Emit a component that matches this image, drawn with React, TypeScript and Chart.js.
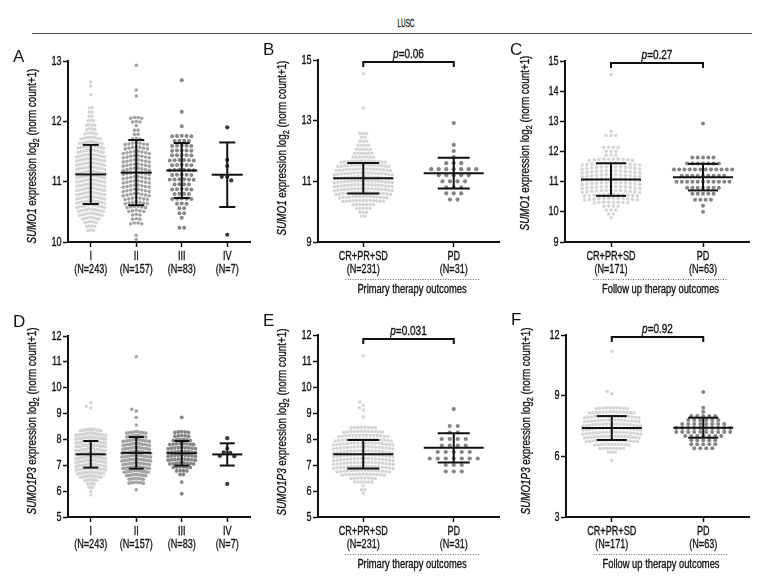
import React, { useEffect, useRef } from "react";
import { Chart, registerables } from "chart.js";

Chart.register(...registerables);

const BASE = "'Liberation Sans', Arial, 'DejaVu Sans', sans-serif";
const INK = "#141414";

/* ====================== DATA ====================== */
// Categories
const STAGE_LABELS = ["I", "II", "III", "IV"];
const STAGE_N = [243, 157, 83, 7];
const PRIMARY_LABELS = ["CR+PR+SD", "PD"];
const PRIMARY_N = [231, 31];
const FOLLOW_LABELS = ["CR+PR+SD", "PD"];
const FOLLOW_N = [171, 63];

// Y axes: [min, max, step]
const A_Y = [10, 13, 1];
const B_Y = [9, 15, 2];
const C_Y = [9, 15, 1];
const D_Y = [5, 12, 1];
const E_Y = [5, 12, 1];
const F_Y = [3, 12, 3];

// Distributions: bins = [first bin value, bin width], counts = samples per bin, single = individual values
// Panel A  SUMO1 by stage
const A_I_BINS = [10.2, 0.07];
const A_I_COUNTS = [3, 4, 5, 7, 9, 10, 11, 11, 11, 11, 11, 11, 11, 11, 11, 11, 11, 11, 11, 10, 10, 9, 8, 5, 4, 4, 3, 2, 2, 2, 0, 0, 1, 0, 1, 1];
const A_I_SINGLE: number[] = [];
const A_II_BINS = [10.04, 0.07];
const A_II_COUNTS = [1, 1, 0, 0, 4, 3, 3, 5, 6, 7, 7, 8, 8, 8, 8, 8, 8, 8, 8, 8, 8, 8, 7, 7, 3, 2, 2, 1, 3, 4];
const A_II_SINGLE = [12.42, 12.52, 12.93];
const A_III_BINS = [10.24, 0.08];
const A_III_COUNTS = [2, 0, 1, 2, 2, 3, 5, 4, 5, 4, 6, 5, 6, 5, 6, 5, 5, 5, 4, 5, 0, 1, 0, 0, 1];
const A_III_SINGLE = [12.68];
const A_IV_BINS = [0, 0];
const A_IV_COUNTS: number[] = [];
const A_IV_SINGLE = [11.9, 11.36, 11.26, 11.08, 11.08, 11.02, 10.12];
const A_MEAN = [11.12, 11.15, 11.185, 11.115];
const A_SD = [0.49, 0.54, 0.455, 0.535];

// Panel B  SUMO1 by primary therapy outcome
const B_CR_BINS = [9.85, 0.13];
const B_CR_COUNTS = [2, 3, 5, 7, 13, 15, 17, 18, 18, 18, 18, 18, 17, 16, 14, 7, 6, 5, 4, 3, 2, 3];
const B_CR_SINGLE = [13.42, 14.55];
const B_PD_BINS = [10.4, 0.2];
const B_PD_COUNTS = [2, 3, 3, 4, 5, 7, 3, 1, 1, 1];
const B_PD_SINGLE = [12.92];
const B_MEAN = [11.1, 11.27];
const B_SD = [0.505, 0.51];
const B_P = "0.06";

// Panel C  SUMO1 by follow-up therapy outcome
const C_CR_BINS = [9.8, 0.13];
const C_CR_COUNTS = [1, 2, 3, 4, 8, 12, 12, 13, 13, 13, 13, 13, 13, 13, 13, 10, 3, 3, 4, 0, 0, 3, 1];
const C_CR_SINGLE = [14.55];
const C_PD_BINS = [10.0, 0.2];
const C_PD_COUNTS = [1, 1, 4, 5, 7, 11, 9, 12, 7, 5];
const C_PD_SINGLE = [12.93];
const C_MEAN = [11.07, 11.15];
const C_SD = [0.54, 0.44];
const C_P = "0.27";

// Panel D  SUMO1P3 by stage
const D_I_BINS = [5.85, 0.15];
const D_I_COUNTS = [1, 1, 3, 5, 8, 13, 16, 18, 18, 18, 18, 18, 18, 18, 18, 18, 18, 13];
const D_I_SINGLE = [9.22, 9.28, 9.42];
const D_II_BINS = [6.05, 0.15];
const D_II_COUNTS = [1, 0, 7, 7, 9, 11, 12, 12, 13, 13, 13, 12, 12, 12, 9, 9];
const D_II_SINGLE = [8.56, 8.85, 9.1, 9.17, 11.2];
const D_III_BINS = [5.9, 0.15];
const D_III_COUNTS = [1, 0, 0, 1, 0, 2, 4, 6, 8, 9, 9, 9, 9, 8, 6, 5, 5];
const D_III_SINGLE = [8.85];
const D_IV_BINS = [0, 0];
const D_IV_COUNTS: number[] = [];
const D_IV_SINGLE = [8.05, 7.65, 7.5, 7.48, 7.36, 7.35, 6.28];
const D_MEAN = [7.425, 7.48, 7.465, 7.42];
const D_SD = [0.515, 0.61, 0.475, 0.43];

// Panel E  SUMO1P3 by primary therapy outcome
const E_CR_BINS = [5.9, 0.15];
const E_CR_COUNTS = [1, 2, 1, 6, 8, 13, 16, 18, 18, 18, 18, 18, 18, 18, 17, 15, 12, 8];
const E_CR_SINGLE = [8.85, 9.12, 9.2, 9.3, 9.42, 11.2];
const E_PD_BINS = [6.75, 0.25];
const E_PD_COUNTS = [3, 3, 7, 5, 4, 4, 2, 2];
const E_PD_SINGLE = [9.15];
const E_MEAN = [7.415, 7.66];
const E_SD = [0.545, 0.56];
const E_P = "0.031";

// Panel F  SUMO1P3 by follow-up therapy outcome
const F_CR_BINS = [5.8, 0.2];
const F_CR_COUNTS = [1, 0, 3, 8, 11, 16, 17, 18, 18, 18, 17, 17, 14, 10];
const F_CR_SINGLE = [9.1, 9.2, 11.2];
const F_PD_BINS = [6.4, 0.2];
const F_PD_COUNTS = [4, 5, 5, 7, 10, 10, 8, 6, 5, 1, 1];
const F_PD_SINGLE = [9.18];
const F_MEAN = [7.4, 7.415];
const F_SD = [0.59, 0.495];
const F_P = "0.92";

/* ====================== STYLE / LAYOUT ====================== */
const STAGE_COLORS = ["#d5d5d5", "#a3a3a3", "#878787", "#383838"];
const OUTCOME_COLORS = ["#d5d5d5", "#858585"];

type Group = { bins: number[]; counts: number[]; single: number[] };
type Box = { left: number; top: number; w: number; h: number };
type Area = { left: number; top: number; right: number; bottom: number };
type PanelCfg = {
  key: string;
  box: Box;
  area: Area;
  y: number[];
  gene: string;
  titleX: number;
  titleY: number;
  labels: string[];
  ns: number[];
  groups: Group[];
  colors: string[];
  radius: number[];
  spacing: number[];
  archLin: number[];
  archQuad: number[];
  mean: number[];
  sd: number[];
  meanHalf: number;
  capHalf: number;
  p?: string;
  bracketDy?: number;
  footer?: string;
};

const g = (bins: number[], counts: number[], single: number[]): Group => ({ bins, counts, single });

const PANELS: PanelCfg[] = [
  {
    key: "A",
    box: { left: 0, top: 36, w: 258, h: 264 },
    area: { left: 68, top: 61, right: 250, bottom: 242 },
    y: A_Y, gene: "SUMO1", titleX: 33, titleY: 156,
    labels: STAGE_LABELS, ns: STAGE_N,
    groups: [g(A_I_BINS, A_I_COUNTS, A_I_SINGLE), g(A_II_BINS, A_II_COUNTS, A_II_SINGLE), g(A_III_BINS, A_III_COUNTS, A_III_SINGLE), g(A_IV_BINS, A_IV_COUNTS, A_IV_SINGLE)],
    colors: STAGE_COLORS, radius: [1.75, 1.8, 2, 2.1], spacing: [2.8, 3.7, 4.8, 5], archLin: [0.2, 0.2, 0.05, 0], archQuad: [0, 0, 0, 0],
    mean: A_MEAN, sd: A_SD, meanHalf: 15.5, capHalf: 8,
  },
  {
    key: "B",
    box: { left: 258, top: 36, w: 250, h: 264 },
    area: { left: 318, top: 60, right: 499, bottom: 242 },
    y: B_Y, gene: "SUMO1", titleX: 283, titleY: 148,
    labels: PRIMARY_LABELS, ns: PRIMARY_N,
    groups: [g(B_CR_BINS, B_CR_COUNTS, B_CR_SINGLE), g(B_PD_BINS, B_PD_COUNTS, B_PD_SINGLE)],
    colors: OUTCOME_COLORS, radius: [1.75, 2.1], spacing: [3.4, 7.5], archLin: [0, 0], archQuad: [0.0025, 0],
    mean: B_MEAN, sd: B_SD, meanHalf: 30, capHalf: 16,
    p: B_P, bracketDy: 2, footer: "Primary therapy outcomes",
  },
  {
    key: "C",
    box: { left: 508, top: 36, w: 272, h: 264 },
    area: { left: 565, top: 61, right: 749, bottom: 242 },
    y: C_Y, gene: "SUMO1", titleX: 526, titleY: 143,
    labels: FOLLOW_LABELS, ns: FOLLOW_N,
    groups: [g(C_CR_BINS, C_CR_COUNTS, C_CR_SINGLE), g(C_PD_BINS, C_PD_COUNTS, C_PD_SINGLE)],
    colors: OUTCOME_COLORS, radius: [1.8, 2], spacing: [4.8, 5.3], archLin: [0, 0], archQuad: [0.0025, 0],
    mean: C_MEAN, sd: C_SD, meanHalf: 30, capHalf: 15,
    p: C_P, bracketDy: 2, footer: "Follow up therapy outcomes",
  },
  {
    key: "D",
    box: { left: 0, top: 300, w: 258, h: 288 },
    area: { left: 68, top: 336, right: 250, bottom: 517 },
    y: D_Y, gene: "SUMO1P3", titleX: 33, titleY: 421,
    labels: STAGE_LABELS, ns: STAGE_N,
    groups: [g(D_I_BINS, D_I_COUNTS, D_I_SINGLE), g(D_II_BINS, D_II_COUNTS, D_II_SINGLE), g(D_III_BINS, D_III_COUNTS, D_III_SINGLE), g(D_IV_BINS, D_IV_COUNTS, D_IV_SINGLE)],
    colors: STAGE_COLORS, radius: [1.75, 1.8, 1.9, 2.1], spacing: [1.75, 2.4, 3.4, 5], archLin: [0.15, 0.15, 0.1, 0], archQuad: [0, 0, 0, 0],
    mean: D_MEAN, sd: D_SD, meanHalf: 15, capHalf: 7.5,
  },
  {
    key: "E",
    box: { left: 258, top: 300, w: 250, h: 288 },
    area: { left: 318, top: 335, right: 499, bottom: 517 },
    y: E_Y, gene: "SUMO1P3", titleX: 283, titleY: 422,
    labels: PRIMARY_LABELS, ns: PRIMARY_N,
    groups: [g(E_CR_BINS, E_CR_COUNTS, E_CR_SINGLE), g(E_PD_BINS, E_PD_COUNTS, E_PD_SINGLE)],
    colors: OUTCOME_COLORS, radius: [1.75, 2.1], spacing: [3.5, 8], archLin: [0, 0], archQuad: [0.0025, 0],
    mean: E_MEAN, sd: E_SD, meanHalf: 30, capHalf: 16,
    p: E_P, bracketDy: 4, footer: "Primary therapy outcomes",
  },
  {
    key: "F",
    box: { left: 508, top: 300, w: 272, h: 288 },
    area: { left: 566, top: 335, right: 749, bottom: 517 },
    y: F_Y, gene: "SUMO1P3", titleX: 527, titleY: 421,
    labels: FOLLOW_LABELS, ns: FOLLOW_N,
    groups: [g(F_CR_BINS, F_CR_COUNTS, F_CR_SINGLE), g(F_PD_BINS, F_PD_COUNTS, F_PD_SINGLE)],
    colors: OUTCOME_COLORS, radius: [1.75, 2], spacing: [3.4, 6], archLin: [0, 0], archQuad: [0.0025, 0],
    mean: F_MEAN, sd: F_SD, meanHalf: 30, capHalf: 15,
    p: F_P, bracketDy: 2, footer: "Follow up therapy outcomes",
  },
];

const LETTERS = [
  { t: "A", left: 13, top: 48 },
  { t: "B", left: 263, top: 41 },
  { t: "C", left: 510, top: 41 },
  { t: "D", left: 13, top: 313 },
  { t: "E", left: 263, top: 312 },
  { t: "F", left: 511, top: 311 },
];

function layoutGroup(chart: any, gi: number, grp: Group, spacing: number, aLin: number, aQuad: number, r: number) {
  const xs = chart.scales.x;
  const ys = chart.scales.y;
  const band = xs.getPixelForValue(gi + 1) - xs.getPixelForValue(gi);
  const pxPerUnit = (ys.getPixelForValue(ys.min) - ys.getPixelForValue(ys.max)) / (ys.max - ys.min);
  const pts: { x: number; y: number }[] = [];
  const placed: { px: number; py: number }[] = [];
  grp.counts.forEach((n, k) => {
    const v = +(grp.bins[0] + k * grp.bins[1]).toFixed(3);
    for (let j = 0; j < n; j++) {
      const px = (j - (n - 1) / 2) * spacing;
      const drop = aLin * Math.abs(px) + aQuad * px * px;
      const yv = v - drop / pxPerUnit;
      pts.push({ x: gi + px / band, y: yv });
      placed.push({ px, py: ys.getPixelForValue(yv) });
    }
  });
  const d = r * 2 + 1;
  grp.single.forEach((v) => {
    const py = ys.getPixelForValue(v);
    let off = 0;
    for (let t = 0; t < 800; t++) {
      const cand = (t % 2 === 1 ? -1 : 1) * Math.ceil(t / 2) * 0.5;
      if (placed.every((q) => (q.px - cand) ** 2 + (q.py - py) ** 2 >= d * d)) {
        off = cand;
        break;
      }
    }
    placed.push({ px: off, py });
    pts.push({ x: gi + off / band, y: v });
  });
  return pts;
}

function fontStr(size: number, italic?: boolean) {
  return `${italic ? "italic " : ""}${size}px ${BASE}`;
}
function nWidth(ctx: CanvasRenderingContext2D, text: string, size: number, sx: number, italic?: boolean) {
  ctx.font = fontStr(size, italic);
  return ctx.measureText(text).width * sx;
}
function nText(
  ctx: CanvasRenderingContext2D,
  text: string,
  x: number,
  y: number,
  size: number,
  sx: number,
  align: CanvasTextAlign,
  italic?: boolean,
  baseline: CanvasTextBaseline = "middle"
) {
  ctx.save();
  ctx.font = fontStr(size, italic);
  ctx.textAlign = align;
  ctx.textBaseline = baseline;
  ctx.fillStyle = INK;
  ctx.strokeStyle = INK;
  ctx.lineWidth = 0.35;
  ctx.translate(x, y);
  ctx.scale(sx, 1);
  ctx.fillText(text, 0, 0);
  ctx.strokeText(text, 0, 0);
  ctx.restore();
}

const LAB_SIZE = 13;
const LAB_SX = 0.7;

function makeDecor(cfg: PanelCfg) {
  return {
    id: "decor" + cfg.key,
    afterDatasetsDraw(chart: any) {
      const ctx: CanvasRenderingContext2D = chart.ctx;
      const xs = chart.scales.x;
      const ys = chart.scales.y;
      const area = chart.chartArea;
      const line = (x1: number, y1: number, x2: number, y2: number) => {
        ctx.beginPath();
        ctx.moveTo(x1, y1);
        ctx.lineTo(x2, y2);
        ctx.stroke();
      };
      ctx.save();
      // mean ± SD
      ctx.strokeStyle = "#111";
      ctx.lineWidth = 2;
      cfg.mean.forEach((m, i) => {
        const cx = xs.getPixelForValue(i);
        const yM = ys.getPixelForValue(m);
        const yU = ys.getPixelForValue(m + cfg.sd[i]);
        const yL = ys.getPixelForValue(m - cfg.sd[i]);
        line(cx - cfg.meanHalf, yM, cx + cfg.meanHalf, yM);
        line(cx, yU, cx, yL);
        line(cx - cfg.capHalf, yU, cx + cfg.capHalf, yU);
        line(cx - cfg.capHalf, yL, cx + cfg.capHalf, yL);
      });

      // y tick labels
      ys.ticks.forEach((t: any) => {
        nText(ctx, String(t.value), area.left - 6.5, ys.getPixelForValue(t.value), LAB_SIZE, LAB_SX, "right");
      });
      // x category labels
      cfg.labels.forEach((lab, i) => {
        const cx = xs.getPixelForValue(i);
        nText(ctx, lab, cx, area.bottom + 14, LAB_SIZE, LAB_SX, "center");
        nText(ctx, `(N=${cfg.ns[i]})`, cx, area.bottom + 27.3, LAB_SIZE, LAB_SX, "center");
      });

      // y-axis title
      ctx.save();
      ctx.translate(cfg.titleX - cfg.box.left, cfg.titleY - cfg.box.top);
      ctx.rotate(-Math.PI / 2);
      const segs = [
        { t: cfg.gene, s: 12, it: true, dy: 0 },
        { t: " expression log", s: 12, it: false, dy: 0 },
        { t: "2", s: 8.5, it: false, dy: 3.5 },
        { t: " (norm count+1)", s: 12, it: false, dy: 0 },
      ];
      const TSX = 0.82;
      let total = 0;
      segs.forEach((s) => (total += nWidth(ctx, s.t, s.s, TSX, s.it)));
      let x = -total / 2;
      segs.forEach((s) => {
        nText(ctx, s.t, x, s.dy, s.s, TSX, "left", s.it);
        x += nWidth(ctx, s.t, s.s, TSX, s.it);
      });
      ctx.restore();

      const c0 = xs.getPixelForValue(0);
      const c1 = xs.getPixelForValue(1);
      // p-value bracket
      if (cfg.p) {
        const by = area.top + (cfg.bracketDy || 2);
        ctx.strokeStyle = "#111";
        ctx.lineWidth = 2;
        ctx.beginPath();
        ctx.moveTo(c0, by + 5);
        ctx.lineTo(c0, by);
        ctx.lineTo(c1, by);
        ctx.lineTo(c1, by + 5);
        ctx.stroke();
        const PSX = 0.8;
        const wp = nWidth(ctx, "p", 12.5, PSX, true);
        const wr = nWidth(ctx, "=" + cfg.p, 12.5, PSX);
        const sx = (c0 + c1) / 2 - (wp + wr) / 2;
        nText(ctx, "p", sx, by - 4, 12.5, PSX, "left", true, "alphabetic");
        nText(ctx, "=" + cfg.p, sx + wp, by - 4, 12.5, PSX, "left", false, "alphabetic");
      }
      // footer group label
      if (cfg.footer) {
        const fy = area.bottom + 37;
        const fl = c0 - 18;
        const fr = c1 + 25;
        ctx.strokeStyle = "#666";
        ctx.lineWidth = 1;
        ctx.setLineDash([1, 1.5]);
        line(fl, fy + 0.5, fr, fy + 0.5);
        ctx.setLineDash([]);
        nText(ctx, cfg.footer, (fl + fr) / 2, fy + 11, 12, 0.78, "center");
      }
      ctx.restore();
    },
  };
}

function Panel({ cfg }: { cfg: PanelCfg }) {
  const ref = useRef<HTMLCanvasElement>(null);
  useEffect(() => {
    const canvas = ref.current;
    if (!canvas) return;
    const { box, area } = cfg;
    const n = cfg.labels.length;
    const gridOpts = { display: true, drawOnChartArea: false, drawTicks: true, tickLength: 5, tickWidth: 1.5, tickColor: "#111", color: "#111" };
    const chart = new Chart(canvas, {
      type: "scatter",
      data: {
        datasets: cfg.groups.map((_, i) => ({
          data: [] as { x: number; y: number }[],
          pointRadius: cfg.radius[i],
          pointHoverRadius: cfg.radius[i],
          pointBackgroundColor: cfg.colors[i],
          pointBorderWidth: 0,
          borderColor: "rgba(0,0,0,0)",
          backgroundColor: cfg.colors[i],
          clip: false as any,
        })),
      },
      options: {
        animation: false,
        responsive: false,
        events: [],
        layout: {
          padding: { left: 0, top: area.top - box.top, right: box.left + box.w - area.right, bottom: 0 },
        },
        plugins: { legend: { display: false }, tooltip: { enabled: false }, title: { display: false } },
        scales: {
          x: {
            type: "linear",
            min: -0.5,
            max: n - 0.5,
            afterBuildTicks: (s: any) => {
              s.ticks = cfg.labels.map((_, i) => ({ value: i }));
            },
            afterFit: (s: any) => {
              s.height = box.top + box.h - area.bottom;
            },
            ticks: { display: false },
            grid: gridOpts,
            border: { display: true, color: "#111", width: 2 },
          },
          y: {
            type: "linear",
            min: cfg.y[0],
            max: cfg.y[1],
            afterFit: (s: any) => {
              s.width = area.left - box.left;
            },
            ticks: { display: false, stepSize: cfg.y[2] },
            grid: gridOpts,
            border: { display: true, color: "#111", width: 2 },
          },
        },
      } as any,
      plugins: [makeDecor(cfg)],
    });
    chart.data.datasets.forEach((ds: any, i: number) => {
      ds.data = layoutGroup(chart, i, cfg.groups[i], cfg.spacing[i], cfg.archLin[i], cfg.archQuad[i], cfg.radius[i]);
    });
    chart.update();
    return () => chart.destroy();
  }, [cfg]);
  return (
    <canvas
      ref={ref}
      width={cfg.box.w}
      height={cfg.box.h}
      style={{ position: "absolute", left: cfg.box.left, top: cfg.box.top, width: cfg.box.w, height: cfg.box.h }}
    />
  );
}

export default function App() {
  return (
    <div style={{ position: "absolute", left: 0, top: 0, width: 780, height: 588, background: "#fff", overflow: "hidden", fontFamily: BASE, color: INK }}>
      <div style={{ position: "absolute", left: 406, top: 17, fontSize: 10.5, lineHeight: "12px", transform: "translateX(-50%) scaleX(0.6)", whiteSpace: "nowrap", WebkitTextStroke: "0.3px #141414" }}>LUSC</div>
      <div style={{ position: "absolute", left: 32, top: 33, width: 720, height: 1, background: "#555" }} />
      {PANELS.map((p) => (
        <Panel key={p.key} cfg={p} />
      ))}
      {LETTERS.map((l) => (
        <div key={l.t} style={{ position: "absolute", left: l.left, top: l.top, fontSize: 17, lineHeight: "17px", zIndex: 2 }}>
          {l.t}
        </div>
      ))}
    </div>
  );
}
